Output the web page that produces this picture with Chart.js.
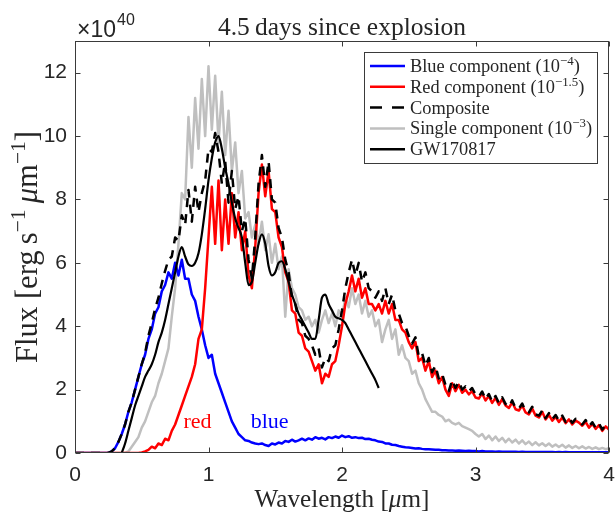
<!DOCTYPE html>
<html><head><meta charset="utf-8">
<script src="https://cdn.jsdelivr.net/npm/chart.js@4.4.0/dist/chart.umd.min.js"></script>
<style>html,body{margin:0;padding:0;background:#fff}</style>
</head><body>
<canvas id="c" width="615" height="516"></canvas>
<script>
// ---------- data (flux in units of 1e40 erg s^-1 um^-1) ----------
const WL_STEP = 0.025;          // wavelength grid step [um], grid starts at 0
const GW_START = 0.35;          // first wavelength of the GW170817 spectrum
const xTicks = [0, 1, 2, 3, 4];
const yTicks = [0, 2, 4, 6, 8, 10, 12];

const blueComp = [0,0,0,0,0,0,0,0,0,0,0,
 0.05,0.15,0.35,0.6,0.9,1.3,1.6,2.0,2.4,2.8,
 3.1,3.6,3.9,4.4,4.6,5.1,5.3,5.7,5.5,6.0,
 5.6,6.1,5.5,5.5,5.0,4.8,4.3,3.9,3.4,3.0,
 3.1,2.5,2.2,1.9,1.6,1.3,1.0,0.8,0.6,0.5,
 0.4,0.38,0.33,0.3,0.28,0.3,0.25,0.22,0.3,0.27,
 0.33,0.3,0.38,0.35,0.42,0.36,0.4,0.45,0.4,0.46,
 0.42,0.5,0.45,0.48,0.43,0.5,0.47,0.52,0.48,0.55,
 0.5,0.53,0.48,0.5,0.47,0.48,0.44,0.45,0.42,0.4,
 0.36,0.35,0.3,0.3,0.26,0.25,0.22,0.2,0.18,0.17,
 0.16,0.14,0.15,0.13,0.12,0.12,0.11,0.1,0.1,0.09,
 0.09,0.08,0.08,0.07,0.08,0.07,0.06,0.07,0.06,0.06,
 0.05,0.06,0.05,0.05,0.05,0.04,0.05,0.04,0.04,0.04,
 0.04,0.04,0.03,0.04,0.03,0.03,0.03,0.03,0.03,0.03,
 0.03,0.03,0.03,0.02,0.03,0.02,0.03,0.02,0.02,0.02,
 0.02,0.02,0.02,0.02,0.02,0.02,0.02,0.02,0.02,0.02];

const redComp = [0,0,0,0,0,0,0,0,0,0,0,0,0,0,0,0,0,0,0,0,
 0.02,0.05,0.1,0.2,0.15,0.3,0.25,0.45,0.4,0.7,0.9,
 1.2,1.5,1.8,2.1,2.4,2.8,3.6,3.9,5.2,6.8,
 8.4,6.6,8.6,6.4,8.0,6.6,8.2,6.8,7.6,6.4,
 7.0,5.6,5.2,6.5,8.2,9.1,8.1,8.9,7.7,7.6,
 6.8,6.5,5.7,5.4,4.5,4.4,3.8,3.7,3.3,3.2,
 2.9,2.6,2.8,2.2,2.5,2.4,2.8,2.9,3.4,4.0,
 4.7,5.1,5.6,5.1,5.5,4.9,5.2,4.7,4.7,4.5,
 4.7,4.4,4.8,4.4,4.7,4.2,4.2,3.9,3.8,3.5,
 3.3,3.5,2.9,3.0,2.6,2.9,2.4,2.6,2.2,2.4,
 2.0,1.8,2.2,1.95,2.15,1.9,2.0,1.85,1.95,1.75,
 1.72,1.88,1.66,1.8,1.58,1.74,1.52,1.7,1.5,1.42,
 1.6,1.38,1.34,1.5,1.28,1.22,1.4,1.18,1.12,1.3,
 1.06,1.2,1.02,1.14,0.98,1.12,0.94,1.06,0.9,1.02,
 0.96,0.86,0.98,0.8,0.92,0.76,0.88,0.7,0.84,0.74];

const composite = [0,0,0,0,0,0,0,0,0,0,0,
 0.05,0.15,0.35,0.6,0.9,1.3,1.6,2.0,2.4,2.8,
 3.15,3.7,4.1,4.55,4.9,5.35,5.75,6.1,6.2,6.8,
 6.7,7.5,7.2,8.3,7.3,8.4,7.6,8.2,8.6,9.6,
 9.5,10.1,9.5,8.5,9.2,7.9,8.9,7.7,8.1,7.0,
 7.4,6.1,5.5,6.8,8.5,9.4,8.4,9.2,8.0,7.9,
 7.1,6.8,6.1,5.7,4.9,4.7,4.2,4.1,3.7,3.6,
 3.4,3.1,3.3,2.7,3.0,2.9,3.3,3.4,3.9,4.5,
 5.2,5.7,6.1,5.6,6.0,5.4,5.7,5.2,5.1,4.9,
 5.1,4.8,5.2,4.7,5.0,4.5,4.4,4.1,4.0,3.7,
 3.45,3.65,3.05,3.15,2.75,3.0,2.55,2.75,2.35,2.5,
 2.15,1.95,2.3,2.05,2.25,2.0,2.1,1.95,2.05,1.85,
 1.78,1.94,1.7,1.86,1.62,1.8,1.58,1.76,1.55,1.46,
 1.66,1.42,1.4,1.56,1.32,1.28,1.46,1.22,1.18,1.34,
 1.1,1.26,1.06,1.2,1.02,1.18,0.98,1.1,0.95,1.08,
 1.0,0.9,1.04,0.84,0.97,0.8,0.93,0.74,0.89,0.78];

const singleComp = [0,0,0,0,0,0,0,0,0,0,0,0,0,0,0,0,
 0.05,0.2,0.35,0.5,0.8,
 1.0,1.3,1.6,1.8,2.2,2.5,2.9,3.3,4.3,5.2,
 6.6,8.2,8.0,10.6,9.0,11.2,9.6,11.8,10.0,12.2,
 10.2,11.9,9.8,11.4,9.4,10.8,8.9,9.8,8.2,8.9,
 7.4,7.6,6.8,7.2,6.6,7.3,6.4,6.9,6.0,6.6,
 5.8,6.2,4.3,5.8,5.2,5.0,4.6,4.5,4.2,4.3,
 4.0,4.2,3.8,4.2,4.5,4.1,4.4,4.0,4.5,4.3,
 4.9,4.6,5.2,4.7,5.0,4.4,4.8,4.3,4.5,4.0,
 4.2,3.5,3.9,4.2,3.6,3.9,3.1,3.4,3.0,2.9,
 2.5,2.6,2.2,2.0,1.7,1.5,1.3,1.3,1.2,1.15,
 1.0,1.05,0.95,0.9,0.95,0.85,0.8,0.75,0.7,0.6,
 0.52,0.6,0.44,0.55,0.4,0.52,0.38,0.48,0.34,0.45,
 0.33,0.42,0.3,0.4,0.28,0.36,0.25,0.34,0.24,0.31,
 0.22,0.3,0.2,0.27,0.19,0.26,0.17,0.24,0.16,0.22,
 0.15,0.21,0.14,0.19,0.13,0.18,0.12,0.16,0.12,0.15];

const gwFlux = [0.0,0.3,0.7,1.1,1.5,1.8,2.1,2.4,2.6,2.8,
 3.1,3.5,3.8,4.2,4.7,5.2,5.7,6.2,6.5,6.2,
 5.95,5.9,6.0,6.3,6.9,7.7,8.6,9.3,9.8,10.0,
 9.6,9.0,8.5,7.9,7.4,7.1,6.8,6.0,5.3,5.4,
 6.0,6.6,6.9,6.6,5.9,5.6,5.7,6.0,6.05,5.8,
 5.4,5.0,4.7,4.4,4.2,4.0,3.8,3.6,3.6,4.2,
 4.9,5.0,4.7,4.5,4.3,4.25,4.2,4.1,3.9,3.7,
 3.5,3.3,3.1,2.9,2.7,2.5,2.3,2.05];

// text annotations: [label, x (um), y (flux), colour]
const annotations = [["red", 0.918, 0.8, "#ff0000"], ["blue", 1.458, 0.8, "#0000ff"]];

// legend rows: runs of [text, kind] (kind: '' normal, 'sup' superscript)
const legendRows = [
  {color:"#0000ff", dash:false, runs:[["Blue component (10",""],["\u22124","sup"],[")",""]]},
  {color:"#ff0000", dash:false, runs:[["Red component (10",""],["\u22121.5","sup"],[")",""]]},
  {color:"#000000", dash:true,  runs:[["Composite",""]]},
  {color:"#bfbfbf", dash:false, runs:[["Single component (10",""],["\u22123","sup"],[")",""]]},
  {color:"#000000", dash:false, runs:[["GW170817",""]]}
];

// ---------- helpers ----------
const SERIF = '"Liberation Serif"', SANS = '"Liberation Sans"';
function runFont(r, size, fam) {
  const s = r[1] === 'sup' ? size * 0.7 : size;
  const it = r[1] === 'it' ? 'italic ' : '';
  return it + s.toFixed(2) + 'px ' + (fam || SERIF);
}
function runsWidth(ctx, runs, size, fam) {
  let w = 0;
  for (const r of runs) { ctx.font = runFont(r, size, fam); w += ctx.measureText(r[0]).width; }
  return w;
}
function drawRuns(ctx, runs, x, y, size, align, fam) {
  const w = runsWidth(ctx, runs, size, fam);
  let cx = align === 'center' ? x - w / 2 : (align === 'right' ? x - w : x);
  ctx.textAlign = 'left'; ctx.textBaseline = 'alphabetic';
  for (const r of runs) {
    ctx.font = runFont(r, size, fam);
    ctx.fillText(r[0], cx, r[1] === 'sup' ? y - size * 0.4 : y);
    cx += ctx.measureText(r[0]).width;
  }
}
function fitSize(ctx, runs, target, fam) { return 100 * target / runsWidth(ctx, runs, 100, fam); }

const toPts = (vals, start) => vals.map((v, i) => ({x: +(start + i * WL_STEP).toFixed(3), y: v}));

const AX = '#262626';
const decor = {
  id: 'decor',
  afterDraw(chart) {
    const ctx = chart.ctx, a = chart.chartArea, xs = chart.scales.x, ys = chart.scales.y;
    ctx.save();
    // axes box
    ctx.strokeStyle = '#3a3a3a'; ctx.lineWidth = 1;
    const L = Math.round(a.left) + 0.5, R = Math.round(a.right) - 0.5,
          T = Math.round(a.top) + 0.5, B = Math.round(a.bottom) - 0.5;
    ctx.strokeRect(L, T, R - L, B - T);
    // inward ticks
    ctx.beginPath();
    xTicks.forEach(v => { const p = Math.round(xs.getPixelForValue(v)) + 0.5;
      ctx.moveTo(p, B); ctx.lineTo(p, B - 5); ctx.moveTo(p, T); ctx.lineTo(p, T + 5); });
    yTicks.forEach(v => { const p = Math.round(ys.getPixelForValue(v)) + 0.5;
      ctx.moveTo(L, p); ctx.lineTo(L + 5, p); ctx.moveTo(R, p); ctx.lineTo(R - 5, p); });
    ctx.stroke();

    ctx.fillStyle = AX;
    // title
    const title = [["4.5\u2009days since explosion",""]];
    drawRuns(ctx, title, (a.left + a.right) / 2, 35, fitSize(ctx, title, 248), 'center');
    // x label
    const xl = [["Wavelength [",""],["\u03bc","it"],["m]",""]];
    drawRuns(ctx, xl, (a.left + a.right) / 2, 507, fitSize(ctx, xl, 175), 'center');
    // y label (rotated)
    const yl = [["Flux [erg\u2009s",""],["\u22121",'sup'],["\u2009",""],["\u03bc","it"],["m",""],["\u22121",'sup'],["]",""]];
    ctx.save(); ctx.translate(37, (a.top + a.bottom) / 2); ctx.rotate(-Math.PI / 2);
    drawRuns(ctx, yl, 0, 0, fitSize(ctx, yl, 232), 'center');
    ctx.restore();
    // exponent
    ctx.font = '23px ' + SANS; ctx.textAlign = 'left'; ctx.textBaseline = 'alphabetic';
    ctx.fillText('\u00d710', 77, 37);
    const w10 = ctx.measureText('\u00d710').width;
    ctx.font = '16px ' + SANS; ctx.fillText('40', 78 + w10, 25);

    // annotations
    annotations.forEach(([t, x, y, c]) => {
      ctx.fillStyle = c;
      drawRuns(ctx, [[t, ""]], xs.getPixelForValue(x), ys.getPixelForValue(y), 22, 'center');
    });

    // legend
    const bx = 364.5, by = 52.5, bw = 233, bh = 111;
    ctx.fillStyle = '#fff'; ctx.fillRect(bx, by, bw, bh);
    ctx.strokeStyle = '#3a3a3a'; ctx.lineWidth = 1; ctx.strokeRect(bx, by, bw, bh);
    const lsize = fitSize(ctx, legendRows[0].runs, 170);
    legendRows.forEach((row, i) => {
      const y = 66 + i * 20.8;
      ctx.strokeStyle = row.color; ctx.lineWidth = 2.5;
      ctx.setLineDash(row.dash ? [12, 10] : []);
      ctx.beginPath(); ctx.moveTo(370, y); ctx.lineTo(405, y); ctx.stroke();
      ctx.setLineDash([]);
      ctx.fillStyle = AX;
      drawRuns(ctx, row.runs, 410, y + lsize * 0.33, lsize, 'left');
    });
    ctx.restore();
  }
};

const lineDs = (vals, start, color, width, order, extra) => Object.assign({
  data: toPts(vals, start), borderColor: color, borderWidth: width, pointRadius: 0,
  tension: 0, fill: false, order: order, borderJoinStyle: 'round'
}, extra || {});

new Chart(document.getElementById('c'), {
  type: 'line',
  data: { datasets: [
    lineDs(gwFlux, GW_START, '#000000', 2.2, 0, {cubicInterpolationMode: 'monotone'}),
    lineDs(composite, 0, '#000000', 2.5, 1, {borderDash: [9, 7]}),
    lineDs(redComp, 0, '#ff0000', 2.5, 2),
    lineDs(blueComp, 0, '#0000ff', 2.5, 3),
    lineDs(singleComp, 0, '#bfbfbf', 2.5, 4)
  ]},
  options: {
    responsive: false, animation: false, devicePixelRatio: 1,
    layout: { padding: { left: 0, right: 6, top: 41, bottom: 0 } },
    plugins: { legend: { display: false }, tooltip: { enabled: false }, title: { display: false } },
    scales: {
      x: { type: 'linear', min: 0, max: 4,
        afterBuildTicks: s => { s.ticks = xTicks.map(v => ({value: v})); },
        afterFit: s => { s.height = 63; s.paddingLeft = 0; s.paddingRight = 0; },
        grid: { display: false, drawTicks: false }, border: { display: false },
        ticks: { color: AX, font: { family: 'Liberation Sans', size: 21 }, padding: 10, maxRotation: 0, autoSkip: false } },
      y: { type: 'linear', min: 0, max: 13,
        afterBuildTicks: s => { s.ticks = yTicks.map(v => ({value: v})); },
        afterFit: s => { s.width = 75; s.paddingTop = 0; s.paddingBottom = 0; },
        grid: { display: false, drawTicks: false }, border: { display: false },
        ticks: { color: AX, font: { family: 'Liberation Sans', size: 21 }, padding: 8, autoSkip: false } }
    }
  },
  plugins: [decor]
});
</script>
</body></html>
